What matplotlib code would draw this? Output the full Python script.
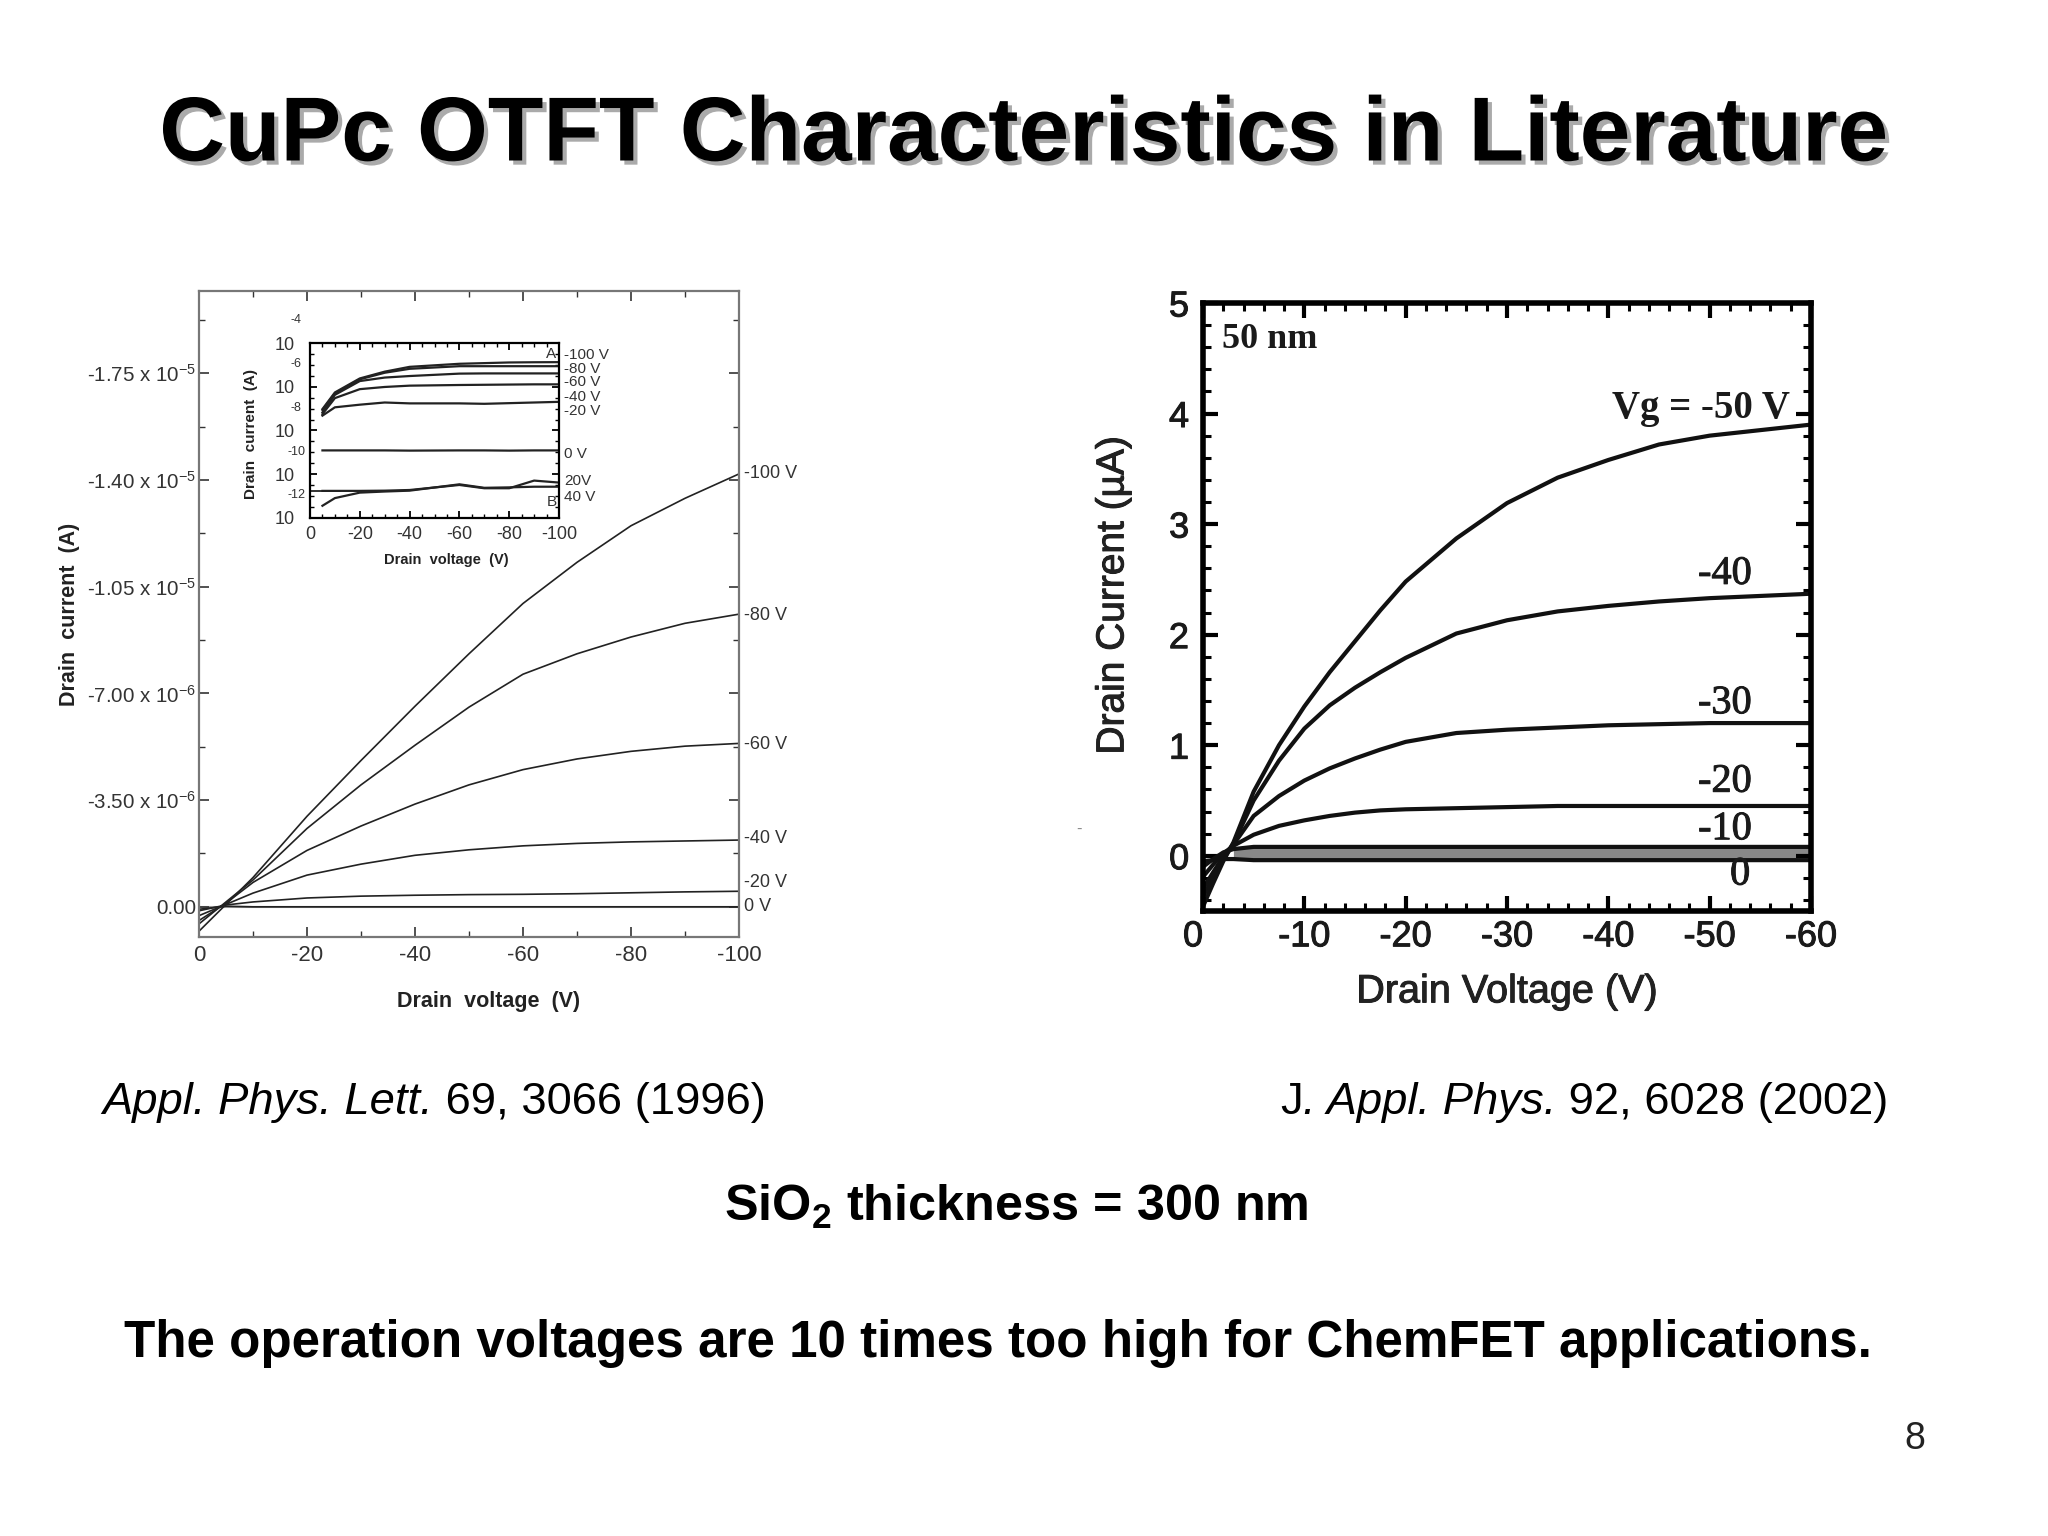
import matplotlib
matplotlib.use("Agg")
from matplotlib import pyplot as plt
from matplotlib.ticker import MultipleLocator, NullFormatter
import matplotlib.patheffects as pe

plt.rcParams['font.family'] = ['Liberation Sans', 'DejaVu Sans']
plt.rcParams['mathtext.fontset'] = 'custom'
plt.rcParams['mathtext.rm'] = 'Liberation Sans'
plt.rcParams['mathtext.it'] = 'Liberation Sans:italic'
plt.rcParams['mathtext.bf'] = 'Liberation Sans:bold'
plt.rcParams['axes.unicode_minus'] = False

W, H = 2048, 1536

# left chart, Appl. Phys. Lett. 1996, x in V, y in 1e-6 A (sign flipped)
left_vd = [0, -5, -10, -20, -30, -40, -50, -60, -70, -80, -90, -100]
left_100 = [-0.8, 0.08, 0.96, 2.97, 4.8, 6.58, 8.3, 9.95, 11.3, 12.5, 13.4, 14.2]
left_80 = [-0.56, 0.16, 0.88, 2.57, 4.0, 5.3, 6.55, 7.63, 8.3, 8.85, 9.3, 9.6]
left_60 = [-0.45, 0.12, 0.8, 1.85, 2.65, 3.37, 4.0, 4.5, 4.85, 5.1, 5.27, 5.36]
left_40 = [-0.29, 0.08, 0.45, 1.04, 1.4, 1.69, 1.87, 2.0, 2.08, 2.13, 2.16, 2.19]
left_20 = [-0.13, 0.06, 0.16, 0.29, 0.35, 0.38, 0.4, 0.41, 0.43, 0.46, 0.49, 0.51]
left_0 = [-0.08, 0.02, 0.0, 0.0, 0.0, 0.0, 0.0, 0.0, 0.0, 0.0, 0.0, 0.0]
left_curves = [left_100, left_80, left_60, left_40, left_20, left_0]
left_names = ['-100 V', '-80 V', '-60 V', '-40 V', '-20 V', '0 V']
left_name_y = [14.2, 9.55, 5.33, 2.23, 0.8, 0.0]
left_yticks = [0, 3.5, 7, 10.5, 14, 17.5]
left_ylabels = ['0.00', '-3.50 x 10$^{-6}$', '-7.00 x 10$^{-6}$', '-1.05 x 10$^{-5}$',
                '-1.40 x 10$^{-5}$', '-1.75 x 10$^{-5}$']
left_xticks = [0, -20, -40, -60, -80, -100]

# inset, log10 of the current
inset_vd = [-5, -10, -20, -30, -40, -60, -70, -80, -90, -100]
inset_100 = [-7.02, -6.26, -5.62, -5.31, -5.09, -4.95, -4.92, -4.89, -4.88, -4.875]
inset_80 = [-7.06, -6.31, -5.66, -5.36, -5.18, -5.06, -5.06, -5.06, -5.06, -5.06]
inset_60 = [-7.17, -6.37, -5.74, -5.58, -5.51, -5.40, -5.39, -5.39, -5.39, -5.39]
inset_40 = [-7.25, -6.52, -6.11, -6.01, -5.95, -5.92, -5.91, -5.90, -5.89, -5.89]
inset_20 = [-7.32, -6.94, -6.82, -6.72, -6.76, -6.76, -6.78, -6.75, -6.72, -6.69]
inset_0 = [-8.91, -8.91, -8.91, -8.91, -8.92, -8.91, -8.91, -8.92, -8.91, -8.91]
inset_n20 = [-10.76, -10.76, -10.76, -10.75, -10.72, -10.49, -10.64, -10.64, -10.29, -10.38]
inset_n40 = [-11.44, -11.09, -10.84, -10.79, -10.75, -10.46, -10.62, -10.60, -10.57, -10.57]
inset_curves = [inset_100, inset_80, inset_60, inset_40, inset_20, inset_0, inset_n20, inset_n40]
inset_names = ['-100 V', '-80 V', '-60 V', '-40 V', '-20 V', '0 V', '20V', '40 V']
inset_name_y = [-4.54, -5.19, -5.79, -6.45, -7.1, -9.07, -10.33, -11.04]
inset_yticks = [-4, -6, -8, -10, -12]

# right chart, J. Appl. Phys. 2002, y in uA
right_vd = [0, -1, -2, -3, -5, -7.5, -10, -12.5, -15, -17.5, -20, -25, -30, -35, -40, -45, -50, -60]
right_50 = [-0.46, -0.25, -0.05, 0.12, 0.58, 1.0, 1.35, 1.66, 1.94, 2.22, 2.48, 2.87, 3.19, 3.42, 3.58, 3.72, 3.8, 3.9]
right_40 = [-0.37, -0.2, -0.03, 0.11, 0.5, 0.86, 1.15, 1.36, 1.52, 1.66, 1.79, 2.01, 2.13, 2.21, 2.26, 2.3, 2.33, 2.37]
right_30 = [-0.3, -0.15, -0.01, 0.1, 0.36, 0.54, 0.68, 0.79, 0.88, 0.96, 1.03, 1.11, 1.14, 1.16, 1.18, 1.19, 1.2, 1.2]
right_20 = [-0.19, -0.08, 0.02, 0.09, 0.19, 0.27, 0.32, 0.36, 0.39, 0.41, 0.42, 0.43, 0.44, 0.45, 0.45, 0.45, 0.45, 0.45]
right_10 = [-0.1, -0.03, 0.03, 0.06, 0.08, 0.08, 0.08, 0.08, 0.08, 0.08, 0.08, 0.08, 0.08, 0.08, 0.08, 0.08, 0.08, 0.08]
right_0 = [-0.05, -0.04, -0.03, -0.03, -0.04, -0.04, -0.04, -0.04, -0.04, -0.04, -0.04, -0.04, -0.04, -0.04, -0.04, -0.04, -0.04, -0.04]
right_curves = [right_50, right_40, right_30, right_20, right_10, right_0]
right_names = ['-40', '-30', '-20', '-10', '0']
right_name_x = [-51.5, -51.5, -51.5, -51.5, -53]
right_name_y = [2.545, 1.375, 0.665, 0.235, -0.175]
right_xticks = [0, -10, -20, -30, -40, -50, -60]
right_yticks = [0, 1, 2, 3, 4, 5]


def axes_px(fig, x0, y0, x1, y1):
    return fig.add_axes([x0 / W, 1 - y1 / H, (x1 - x0) / W, (y1 - y0) / H])


def text_run(fig, x, y, parts, size):
    # parts are (string, style) pieces set one after the other on a baseline
    renderer = fig.canvas.get_renderer()
    for s, st in parts:
        t = fig.text(x / W, 1 - y / H, s, fontsize=size, style=st, ha='left', va='baseline', color='black')
        x = t.get_window_extent(renderer).x1


fig = plt.figure(figsize=(W / 100, H / 100), dpi=100, facecolor='white')

# left chart
ax = axes_px(fig, 199, 291, 739, 937)
for curve in left_curves:
    ax.plot(left_vd, curve, color='#222222', lw=1.2)
ax.axhline(0, color='#999999', lw=1.5, zorder=1)
ax.set_xlim(0, -100)
ax.set_ylim(-0.99, 20.2)
ax.set_xticks(left_xticks)
ax.set_yticks(left_yticks)
ax.set_yticklabels(left_ylabels)
ax.yaxis.set_minor_locator(MultipleLocator(1.75))
ax.xaxis.set_minor_locator(MultipleLocator(10))
ax.xaxis.set_minor_formatter(NullFormatter())
ax.yaxis.set_minor_formatter(NullFormatter())
ax.tick_params(which='major', direction='in', length=7, width=1.2, top=True, right=True,
               color='#333333', labelsize=16, labelcolor='#333333')
ax.tick_params(axis='y', which='major', pad=2, labelsize=14.8)
ax.tick_params(axis='x', which='major', pad=6)
ax.tick_params(which='minor', direction='in', length=4, width=1, top=True, right=True, color='#333333')
for s in ax.spines.values():
    s.set_color('#777777')
    s.set_linewidth(1.6)
for name, y in zip(left_names, left_name_y):
    ax.text(-101, y, name, fontsize=13, color='#333333', va='center', ha='left')
ax.set_xlabel('Drain  voltage  (V)', fontsize=15.5, fontweight='bold', color='#222222', labelpad=18, x=0.537)
ax.set_ylabel('Drain  current  (A)', fontsize=15.5, fontweight='bold', color='#222222', labelpad=5)

# inset
ins = axes_px(fig, 310, 343, 559, 518)
for curve in inset_curves:
    ins.plot(inset_vd, curve, color='#222222', lw=1.6)
ins.axhline(-10.76, xmax=0.12, color='#222222', lw=1.3)
ins.set_xlim(0, -100)
ins.set_ylim(-12, -4)
ins.set_xticks(left_xticks)
ins.set_yticks(inset_yticks)
ins.set_yticklabels(['10'] * len(inset_yticks))
ins.yaxis.set_minor_locator(MultipleLocator(0.5))
ins.xaxis.set_minor_locator(MultipleLocator(5))
ins.xaxis.set_minor_formatter(NullFormatter())
ins.yaxis.set_minor_formatter(NullFormatter())
ins.tick_params(which='major', direction='in', length=5, width=1.3, top=True, right=True,
                labelsize=13, labelcolor='#333333')
ins.tick_params(axis='y', which='major', pad=11)
ins.tick_params(axis='x', which='major', pad=6)
ins.tick_params(which='minor', direction='in', length=3, width=1, top=True, right=True)
for t in inset_yticks:
    ins.text(5.6, t + 1.03, str(t), fontsize=9, color='#333333', ha='center', va='center', clip_on=False)
for name, y in zip(inset_names, inset_name_y):
    ins.text(-102, y, name, fontsize=11, color='#333333', va='center', ha='left')
ins.text(-97, -4.5, 'A', fontsize=11, color='#333333', ha='center', va='center')
ins.text(-97, -11.25, 'B', fontsize=11, color='#333333', ha='center', va='center')
for s in ins.spines.values():
    s.set_linewidth(1.6)
ins.set_xlabel('Drain  voltage  (V)', fontsize=10.5, fontweight='bold', color='#222222', labelpad=7, x=0.547)
ins.set_ylabel('Drain  current  (A)', fontsize=11, fontweight='bold', color='#222222', labelpad=12, y=0.48)

# right chart
heavy = [pe.withStroke(linewidth=0.7, foreground='#1a1a1a')]
ax2 = axes_px(fig, 1203, 303, 1811, 911)
ax2.fill_between(right_vd[3:], right_0[3:], right_10[3:], color='#888888', lw=0, zorder=1)
for curve in right_curves:
    ax2.plot(right_vd, curve, color='#111111', lw=3)
ax2.set_xlim(0, -60)
ax2.set_ylim(-0.5, 5)
ax2.set_xticks(right_xticks)
ax2.set_yticks(right_yticks)
ax2.xaxis.set_minor_locator(MultipleLocator(2))
ax2.yaxis.set_minor_locator(MultipleLocator(0.2))
ax2.xaxis.set_minor_formatter(NullFormatter())
ax2.yaxis.set_minor_formatter(NullFormatter())
ax2.tick_params(which='major', direction='in', length=11, width=3, top=True, right=True,
                labelsize=26, labelcolor='#1a1a1a', pad=10)
ax2.tick_params(axis='x', which='major', pad=6)
ax2.tick_params(which='minor', direction='in', length=6, width=2.2, top=True, right=True)
for lab in ax2.get_xticklabels() + ax2.get_yticklabels():
    lab.set_path_effects(heavy)
ax2.get_xticklabels()[0].set_ha('right')
for s in ax2.spines.values():
    s.set_linewidth(4)
ax2.text(-57.9, 4.05, 'Vg = -50 V', fontsize=28, color='#1a1a1a', ha='right', va='center',
         fontfamily='Liberation Serif', fontweight='bold')
for name, x, y in zip(right_names, right_name_x, right_name_y):
    ax2.text(x, y, name, fontsize=29, color='#1a1a1a', ha='center', va='center',
             fontfamily='Liberation Serif', path_effects=heavy)
ax2.text(-1.9, 4.67, '50 nm', fontsize=26, color='#1a1a1a', ha='left', va='center',
         fontfamily='Liberation Serif', fontweight='bold')
ax2.set_xlabel('Drain Voltage (V)', fontsize=28.5, color='#222222', labelpad=13, path_effects=heavy)
ax2.set_ylabel('Drain Current (\u00b5A)', fontsize=28, color='#222222', labelpad=27, y=0.519, path_effects=heavy)

# slide text
fig.text(1024 / W, 1 - 137 / H, 'CuPc OTFT Characteristics in Literature', fontsize=65.5, fontweight='bold',
         ha='center', va='center', color='black',
         path_effects=[pe.withSimplePatchShadow(offset=(3, -3), shadow_rgbFace='#aaaaaa', alpha=1)])
text_run(fig, 102, 1114, [('Appl. Phys. Lett.', 'italic'), (' 69, 3066 (1996)', 'normal')], 32.7)
text_run(fig, 1280, 1114, [('J', 'normal'), ('. Appl. Phys.', 'italic'), (' 92, 6028 (2002)', 'normal')], 32.7)
fig.text(1016 / W, 1 - 1207 / H, r'SiO$_{\mathbf{2}}$ thickness = 300 nm', fontsize=36.3, fontweight='bold',
         ha='center', va='center', color='black')
fig.text(998 / W, 1 - 1344 / H, 'The operation voltages are 10 times too high for ChemFET applications.',
         fontsize=36.8, fontweight='bold', ha='center', va='center', color='black')
fig.text(1915 / W, 1 - 1439 / H, '8', fontsize=27, ha='center', va='center', color='#222222')
fig.text(1079 / W, 1 - 829 / H, '-', fontsize=12, ha='center', va='center', color='#888888')

fig.savefig('out.png', dpi=100)
